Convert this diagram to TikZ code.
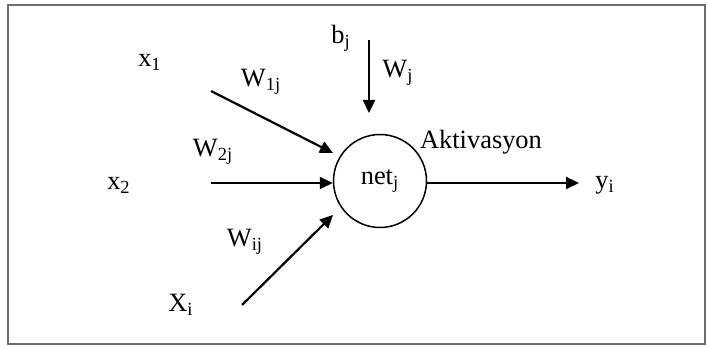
\documentclass[tikz,border=0pt]{standalone}
\usepackage{fontspec}
\setmainfont{Liberation Serif}
\usepackage{xcolor}
\usetikzlibrary{arrows.meta}
\definecolor{framegray}{RGB}{110,110,110}

\begin{document}
\begin{tikzpicture}[
    x=0.5pt, y=-0.5pt,
    lbl/.style={inner sep=0pt, font=\fontsize{13.2}{15}\selectfont},
    neuron/.style={circle, draw, line width=0.75pt, minimum size=46.5pt, inner sep=0pt,
        font=\fontsize{13.2}{15}\selectfont},
    arr/.style={-{Triangle[length=6.5pt,width=6pt]}, line width=1.1pt}
]
\useasboundingbox (0,0) rectangle (707,346);
\draw[framegray, line width=1pt] (8,5) rectangle (705,344);

% neuron
\node[neuron] (net) at (380,181) {net\textsubscript{j}};

% inputs
\node[lbl] (x1) at (150,62) {x\textsubscript{1}};
\node[lbl] (x2) at (119,185) {x\textsubscript{2}};
\node[lbl] (xi) at (181,305) {X\textsubscript{i}};
\node[lbl] (bj) at (341,38) {b\textsubscript{j}};
\node[lbl] (yi) at (605,185) {y\textsubscript{i}};

% weights
\node[lbl] (w1) at (261,82) {W\textsubscript{1j}};
\node[lbl] (w2) at (213,152) {W\textsubscript{2j}};
\node[lbl] (wi) at (245,242) {W\textsubscript{ij}};
\node[lbl] (wj) at (398,73) {W\textsubscript{j}};
\node[lbl] (akt) at (481,142) {Aktivasyon};

\coordinate (s1) at (211,91);   \coordinate (e1) at (333,153);
\coordinate (s2) at (211,183);
\coordinate (si) at (242,305);  \coordinate (ei) at (333,215);
\coordinate (sb) at (369,40);   \coordinate (eb) at (369,113);
\coordinate (ey) at (579,183);

\draw[arr] (s1) -- (e1);
\draw[arr] (s2) -- (s2 -| net.west);
\draw[arr] (si) -- (ei);
\draw[arr] (sb) -- (eb);
\draw[arr] (net.east |- ey) -- (ey);
\end{tikzpicture}
\end{document}
